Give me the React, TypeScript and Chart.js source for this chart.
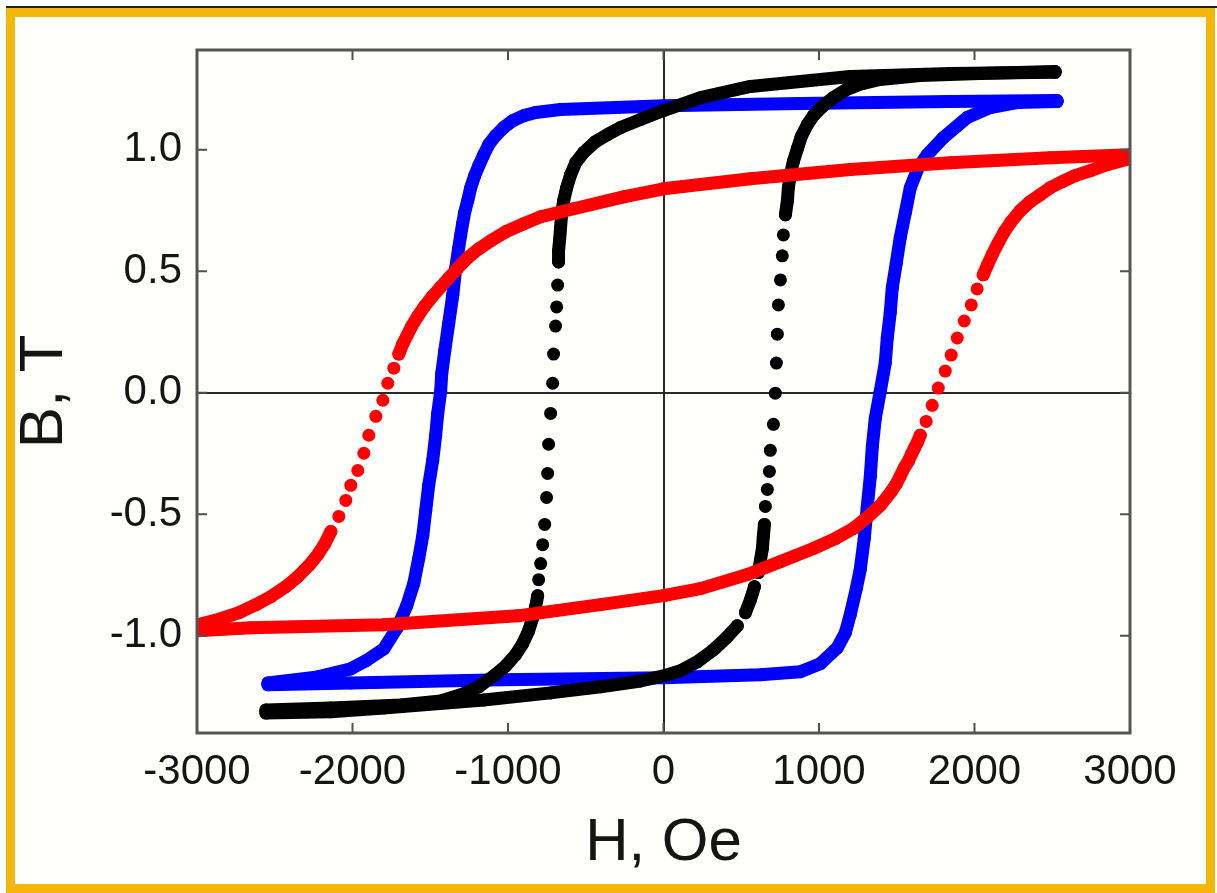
import React, { useEffect, useRef } from 'react';
import { Chart, registerables } from 'chart.js';

Chart.register(...registerables);

// Axis ticks
const xTickValues = [-3000, -2000, -1000, 0, 1000, 2000, 3000];
const yTickValues = [-1.0, -0.5, 0.0, 0.5, 1.0];

// Black loop (descending / upper branch)
const blackDescH = [2518, 1844, 1201, 559, 238, 0, -148, -276, -360, -437, -514, -565, -597, -623, -642, -655, -662, -668, -675,
  -675, -681, -687, -694, -707, -713, -726, -739, -745, -752, -764, -777, -790, -803, -809,
  -822, -841, -867, -906, -951, -1015, -1092, -1188, -1304, -1433, -1690, -2139, -2557];
const blackDescB = [1.318, 1.313, 1.301, 1.260, 1.214, 1.161, 1.124, 1.091, 1.062, 1.033, 0.988, 0.946, 0.897, 0.843, 0.790, 0.736, 0.678, 0.629, 0.584,
  0.538, 0.443, 0.353, 0.274, 0.159, 0.039, -0.085, -0.212, -0.332, -0.431, -0.542, -0.625, -0.703, -0.769, -0.835,
  -0.880, -0.926, -0.979, -1.033, -1.078, -1.124, -1.165, -1.210, -1.243, -1.268, -1.285, -1.297, -1.305];
// Black loop (ascending / lower branch)
const blackAscH = [-2557, -2139, -1799, -1156, -726, -405, -148, 0, 109, 218, 321, 405, 475, 527, 559, 585, 610, 623, 636, 642, 649,
  655, 668, 681, 687, 707, 719, 726, 732, 739, 752, 764, 771, 784,
  797, 803, 816, 835, 861, 886, 925, 964, 1021, 1092, 1176, 1278, 1394, 1651, 2036, 2518];
const blackAscB = [-1.318, -1.313, -1.297, -1.264, -1.235, -1.210, -1.186, -1.165, -1.144, -1.107, -1.058, -1.008, -0.959, -0.905, -0.852, -0.798, -0.740, -0.691, -0.641, -0.592, -0.542,
  -0.468, -0.398, -0.324, -0.237, -0.130, -0.002, 0.122, 0.241, 0.361, 0.464, 0.563, 0.649, 0.732,
  0.790, 0.843, 0.897, 0.951, 1.004, 1.054, 1.103, 1.140, 1.177, 1.214, 1.247, 1.272, 1.289, 1.305, 1.313, 1.322];

// Blue loop
const blueDescH = [2531, 1844, 880, 0, -662, -822, -899, -970, -1028, -1079, -1124, -1156, -1188, -1214, -1240, -1259, -1278, -1291, -1304, -1317,
  -1336, -1355, -1381, -1407, -1426, -1433, -1452, -1465, -1484, -1510, -1529, -1548, -1574, -1606, -1651, -1709, -1799, -1914, -2011, -2223, -2544];
const blueDescB = [1.202, 1.198, 1.190, 1.181, 1.165, 1.153, 1.140, 1.119, 1.091, 1.058, 1.021, 0.979, 0.934, 0.893, 0.843, 0.790, 0.744, 0.699, 0.649, 0.596,
  0.513, 0.402, 0.287, 0.171, 0.080, 0.006, -0.085, -0.175, -0.278, -0.381, -0.485, -0.588, -0.682, -0.785, -0.876, -0.963, -1.054, -1.103, -1.136, -1.169, -1.194];
const blueAscH = [-2544, -2011, -1047, 0, 623, 880, 1008, 1118, 1169, 1201, 1240, 1265, 1291, 1310, 1330, 1343, 1362, 1394, 1426, 1439,
  1458, 1471, 1497, 1522, 1555, 1587, 1638, 1696, 1799, 1953, 2101, 2274, 2531];
const blueAscB = [-1.202, -1.194, -1.181, -1.173, -1.160, -1.148, -1.115, -1.049, -0.988, -0.913, -0.806, -0.728, -0.600, -0.472, -0.344, -0.221, -0.105, 0.006, 0.122, 0.225,
  0.328, 0.431, 0.534, 0.637, 0.740, 0.843, 0.926, 0.979, 1.049, 1.132, 1.173, 1.194, 1.198];

// Red loop
const redDescH = [3000, 2486, 1844, 1201, 559, 0, -257, -578, -790, -899, -1015, -1111, -1188, -1259, -1323, -1381, -1433, -1484, -1535, -1580, -1619, -1651, -1677,
  -1702, -1734, -1773, -1805, -1850, -1895, -1927, -1966, -2011, -2043, -2088,
  -2139, -2178, -2223, -2281, -2352, -2429, -2525, -2621, -2730, -2846, -3000];
const redDescB = [0.979, 0.967, 0.946, 0.918, 0.880, 0.839, 0.806, 0.757, 0.724, 0.695, 0.662, 0.625, 0.592, 0.555, 0.513, 0.472, 0.435, 0.398, 0.357, 0.315, 0.274, 0.233, 0.200,
  0.159, 0.101, 0.039, -0.031, -0.097, -0.175, -0.249, -0.320, -0.381, -0.443, -0.509,
  -0.571, -0.621, -0.666, -0.711, -0.757, -0.798, -0.839, -0.872, -0.905, -0.930, -0.955];
const redAscH = [-3000, -2653, -1799, -938, -405, 0, 238, 540, 752, 964, 1105, 1220, 1310, 1394, 1465, 1497, 1522, 1548, 1574, 1594, 1613, 1632, 1651,
  1689, 1728, 1767, 1812, 1850, 1889, 1934, 1979, 2017, 2056,
  2081, 2113, 2152, 2191, 2235, 2293, 2358, 2422, 2486, 2563, 2647, 2743, 2852, 3000];
const redAscB = [-0.979, -0.967, -0.955, -0.918, -0.872, -0.835, -0.806, -0.748, -0.695, -0.641, -0.600, -0.559, -0.513, -0.464, -0.406, -0.375, -0.344, -0.309, -0.282, -0.254, -0.229, -0.205, -0.175,
  -0.118, -0.052, 0.019, 0.089, 0.155, 0.225, 0.295, 0.361, 0.427, 0.485,
  0.522, 0.567, 0.616, 0.662, 0.703, 0.748, 0.786, 0.814, 0.843, 0.868, 0.893, 0.913, 0.938, 0.963];

const RED = '#ff0000';
const BLUE = '#0000ff';
const BLACK = '#000000';
const FONT = "'Liberation Sans', Arial, Helvetica, sans-serif";

const pts = (h: number[], b: number[]) => h.map((x, i) => ({ x, y: b[i] }));

// Where measured points are far apart along a steep branch, the reference shows separate dots
const gapColor = (color: string) => (ctx: any) => {
  const dx = Math.abs(ctx.p1.x - ctx.p0.x);
  const dy = Math.abs(ctx.p1.y - ctx.p0.y);
  return Math.hypot(dx, dy) > 14.5 && dy > 1.5 * dx ? 'rgba(0,0,0,0)' : color;
};

const series = (h: number[], b: number[], color: string, dotted: boolean) => ({
  data: pts(h, b),
  showLine: true,
  borderColor: color,
  backgroundColor: color,
  pointBackgroundColor: color,
  borderWidth: 13,
  pointRadius: 6.5,
  pointBorderWidth: 0,
  borderCapStyle: 'round',
  borderJoinStyle: 'round',
  tension: 0,
  clip: 0,
  segment: dotted ? { borderColor: gapColor(color) } : undefined,
});

const framePlugin = {
  id: 'plotFrame',
  afterDatasetsDraw(chart: any) {
    const { ctx, chartArea: a, scales } = chart;
    const TL = 10;
    ctx.save();
    ctx.strokeStyle = '#505050';
    ctx.lineWidth = 2;
    ctx.beginPath();
    for (const v of xTickValues) {
      const px = scales.x.getPixelForValue(v);
      ctx.moveTo(px, a.bottom);
      ctx.lineTo(px, a.bottom - TL);
      ctx.moveTo(px, a.top);
      ctx.lineTo(px, a.top + TL);
    }
    for (const v of yTickValues) {
      const py = scales.y.getPixelForValue(v);
      ctx.moveTo(a.left, py);
      ctx.lineTo(a.left + TL, py);
      ctx.moveTo(a.right, py);
      ctx.lineTo(a.right - TL, py);
    }
    ctx.stroke();
    ctx.lineWidth = 3;
    ctx.strokeStyle = '#555555';
    ctx.strokeRect(a.left, a.top, a.right - a.left, a.bottom - a.top);
    ctx.restore();
  },
};

export default function App() {
  const ref = useRef<HTMLCanvasElement | null>(null);

  useEffect(() => {
    if (!ref.current) return;
    const zeroColor = (c: any) => (c.tick && c.tick.value === 0 ? '#2a2a2a' : 'rgba(0,0,0,0)');
    const chart = new Chart(ref.current, {
      type: 'scatter',
      data: {
        datasets: [
          series(redDescH, redDescB, RED, true) as any,
          series(redAscH, redAscB, RED, true) as any,
          series(blackDescH, blackDescB, BLACK, true) as any,
          series(blackAscH, blackAscB, BLACK, true) as any,
          series(blueDescH, blueDescB, BLUE, false) as any,
          series(blueAscH, blueAscB, BLUE, false) as any,
        ],
      },
      options: {
        animation: false,
        responsive: false,
        events: [],
        layout: { padding: { left: 0, top: 50, right: 87, bottom: 0 } },
        plugins: { legend: { display: false }, tooltip: { enabled: false } },
        scales: {
          x: {
            type: 'linear',
            position: 'bottom',
            min: -3000,
            max: 3000,
            afterBuildTicks: (s: any) => { s.ticks = xTickValues.map((v) => ({ value: v })); },
            afterFit: (s: any) => { s.height = 160; },
            grid: { drawTicks: false, color: zeroColor, lineWidth: 2 },
            border: { display: false },
            ticks: {
              padding: 14,
              autoSkip: false,
              maxRotation: 0,
              color: '#151515',
              font: { family: FONT, size: 42 },
              callback: (v: any) => String(v),
            },
            title: {
              display: true,
              text: 'H, Oe',
              color: '#151515',
              font: { family: FONT, size: 60 },
              padding: { top: 0, bottom: 14 },
            },
          },
          y: {
            type: 'linear',
            position: 'left',
            min: -1.4,
            max: 1.41,
            afterBuildTicks: (s: any) => { s.ticks = yTickValues.map((v) => ({ value: v })); },
            afterFit: (s: any) => { s.width = 197; },
            grid: { drawTicks: false, color: zeroColor, lineWidth: 2 },
            border: { display: false },
            ticks: {
              padding: 15,
              autoSkip: false,
              color: '#151515',
              font: { family: FONT, size: 42 },
              callback: (v: any) => Number(v).toFixed(1),
            },
            title: {
              display: true,
              text: 'B, T',
              color: '#151515',
              font: { family: FONT, size: 62 },
              padding: { top: 8, bottom: 0 },
            },
          },
        },
      },
      plugins: [framePlugin],
    });
    return () => chart.destroy();
  }, []);

  return (
    <div style={{ position: 'absolute', left: 0, top: 0, width: 1217, height: 893, background: '#ffffff', overflow: 'hidden' }}>
      <div style={{ position: 'absolute', left: 6, top: 6, width: 1211, height: 2, background: '#1e1e1e' }} />
      <div
        style={{
          position: 'absolute',
          left: 6,
          top: 8,
          width: 1209,
          height: 885,
          boxSizing: 'border-box',
          border: '9px solid #f5b60c',
          background: '#fffffc',
        }}
      />
      <canvas ref={ref} width={1217} height={893} style={{ position: 'absolute', left: 0, top: 0, width: 1217, height: 893 }} />
    </div>
  );
}
